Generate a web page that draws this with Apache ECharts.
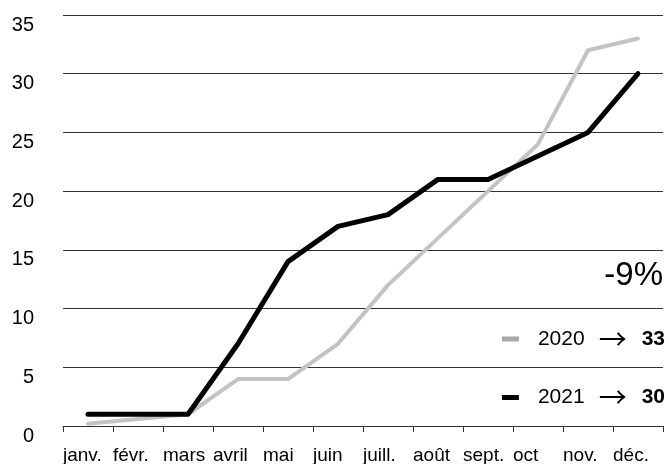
<!DOCTYPE html>
<html>
<head>
<meta charset="utf-8">
<style>
html,body{margin:0;padding:0;background:#fff;}
#chart{width:669px;height:464px;}
</style>
<script src="https://cdn.jsdelivr.net/npm/echarts@6/dist/echarts.min.js"></script>
</head>
<body>
<div id="chart"></div>
<script>
const months = ['janv.','févr.','mars','avril','mai','juin','juill.','août','sept.','oct','nov.','déc.'];
const seriesNames = ['2020','2021'];
const v2020 = [0.2, 0.6, 1, 4, 4, 7, 12, 16, 20, 24, 32, 33];
const v2021 = [1, 1, 1, 7, 14, 17, 18, 21, 21, 23, 25, 30];
const yMin = 0, yMax = 35, yStep = 5;

const last2020 = v2020[v2020.length - 1];
const last2021 = v2021[v2021.length - 1];
const lastVals = {'2020': last2020, '2021': last2021};
const pct = Math.round((last2021 - last2020) / last2020 * 100) + '%';

const FONT = '"Liberation Sans", Helvetica, Arial, sans-serif';
const NARROW = '"Liberation Sans Narrow", "Liberation Sans", Arial, sans-serif';
const chart = echarts.init(document.getElementById('chart'));
chart.setOption({
  animation: false,
  backgroundColor: '#fff',
  textStyle: {fontFamily: FONT},
  title: {
    text: pct, right: 6, top: 259, padding: 0,
    textStyle: {fontFamily: FONT, fontSize: 33, fontWeight: 'normal', color: '#000'}
  },
  legend: {
    orient: 'vertical', right: 4, top: 325, padding: 0, itemGap: 30.5,
    icon: 'rect', itemWidth: 17, itemHeight: 5,
    data: [
      {name: seriesNames[0], itemStyle: {color: '#a9a9a9'}},
      {name: seriesNames[1], itemStyle: {color: '#000'}}
    ],
    formatter: function (name) {
      return '{n|' + name + '}{a|→}{v|' + lastVals[name] + '}';
    },
    textStyle: {
      rich: {
        n: {fontFamily: FONT, fontSize: 21, color: '#000', lineHeight: 20, padding: [0, 0, 0, 14]},
        a: {fontFamily: '"Noto Sans CJK JP", "DejaVu Sans", sans-serif', fontSize: 28, color: '#000', lineHeight: 20, padding: [0, 15, 0, 14]},
        v: {fontFamily: FONT, fontSize: 21, fontWeight: 'bold', color: '#000', lineHeight: 20}
      }
    }
  },
  grid: {left: 63, right: 6, top: 15, bottom: 38, containLabel: false, outerBoundsMode: 'none'},
  xAxis: [
    {
      type: 'category', data: months, boundaryGap: true,
      axisLine: {show: true, lineStyle: {color: '#333', width: 1}},
      axisTick: {show: true, inside: false, length: 6, lineStyle: {color: '#333'}},
      axisLabel: {show: false},
      splitLine: {show: false}
    },
    {
      type: 'category', data: months.concat(['']), boundaryGap: false, position: 'bottom',
      axisLine: {show: false}, axisTick: {show: false}, splitLine: {show: false},
      axisLabel: {
        show: true, interval: 0, align: 'left', margin: 20,
        fontFamily: NARROW, fontSize: 19, color: '#000'
      }
    }
  ],
  yAxis: {
    type: 'value', min: yMin, max: yMax, interval: yStep,
    axisLine: {show: false}, axisTick: {show: false},
    axisLabel: {
      fontFamily: FONT, fontSize: 20, color: '#000', margin: 29,
      align: 'right', verticalAlign: 'top', lineHeight: 20
    },
    splitLine: {show: true, lineStyle: {color: '#333', width: 1}}
  },
  series: [
    {
      name: seriesNames[0], type: 'line', data: v2020, xAxisIndex: 0,
      symbol: 'none', smooth: false, clip: false,
      lineStyle: {color: '#c3c3c3', width: 4, cap: 'round', join: 'round'},
      itemStyle: {color: '#c3c3c3'}, z: 2
    },
    {
      name: seriesNames[1], type: 'line', data: v2021, xAxisIndex: 0,
      symbol: 'none', smooth: false, clip: false,
      lineStyle: {color: '#000', width: 5, cap: 'round', join: 'round'},
      itemStyle: {color: '#000'}, z: 3
    }
  ]
});
</script>
</body>
</html>
